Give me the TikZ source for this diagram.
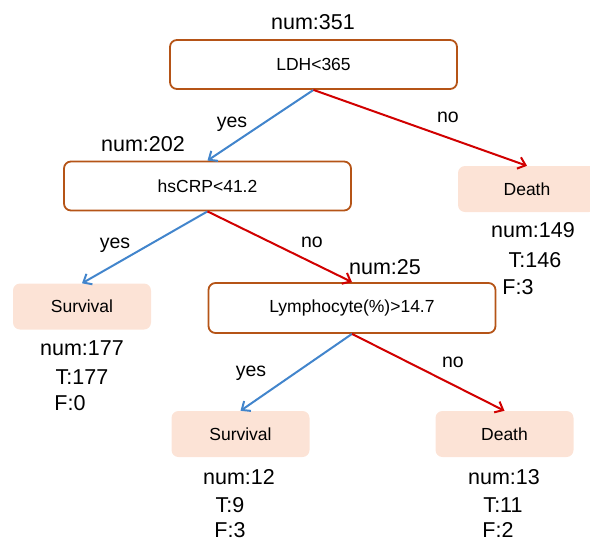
\documentclass[tikz,border=0pt]{standalone}
\usepackage{fontspec}
\setmainfont{Liberation Sans}
\usetikzlibrary{arrows.meta}

\begin{document}
\begin{tikzpicture}[x=1pt,y=-1pt,
  splitbox/.style={draw=col_border,line width=1.8pt,rounded corners=7pt,
    minimum width=287pt,minimum height=49pt,font=\fontsize{17.5}{20}\selectfont},
  leafbox/.style={fill=col_leaf,rounded corners=7pt,
    minimum width=138pt,minimum height=46pt,font=\fontsize{17.5}{20}\selectfont},
  count/.style={inner sep=0pt,font=\fontsize{21.5}{24}\selectfont},
  edgelab/.style={inner sep=0pt,anchor=base,font=\fontsize{19.5}{22}\selectfont},
  yesedge/.style={draw=col_yes,line width=2pt,-{Straight Barb[length=7pt,width=12pt]}},
  noedge/.style={draw=col_no,line width=2pt,-{Straight Barb[length=7pt,width=12pt]}}]
%
\definecolor{col_border}{rgb}{0.71,0.33,0.09}
\definecolor{col_leaf}{rgb}{0.99,0.89,0.84}
\definecolor{col_yes}{rgb}{0.26,0.52,0.80}
\definecolor{col_no}{rgb}{0.82,0.0,0.0}
%
\useasboundingbox (0,0) rectangle (590,539);
%
% split nodes
\node[splitbox] (ldh) at (313.5,64.5) {LDH<365};
\node[splitbox] (crp) at (207.5,186) {hsCRP<41.2};
\node[splitbox,minimum height=50pt] (lym) at (352,308) {Lymphocyte(\%)>14.7};
%
% leaves
\node[leafbox] (death_a) at (527,189) {Death};
\node[leafbox] (surv_a) at (82,306.5) {Survival};
\node[leafbox] (surv_b) at (240.5,434) {Survival};
\node[leafbox] (death_b) at (504.5,434) {Death};
%
% counts
\node[count] (n_ldh) at (313,22) {num:351};
\node[count] (n_crp) at (143,144) {num:202};
\node[count] (n_lym) at (385,267) {num:25};
%
\node[count] (n_da) at (533,230) {num:149};
\node[count] (t_da) at (535,260) {T:146};
\node[count] (f_da) at (518,287) {F:3};
%
\node[count] (n_sa) at (82,348) {num:177};
\node[count] (t_sa) at (82,377) {T:177};
\node[count] (f_sa) at (70,403) {F:0};
%
\node[count] (n_sb) at (239,477) {num:12};
\node[count] (t_sb) at (230,505) {T:9};
\node[count] (f_sb) at (230,530) {F:3};
%
\node[count] (n_db) at (504,477) {num:13};
\node[count] (t_db) at (503,505) {T:11};
\node[count] (f_db) at (498,530) {F:2};
%
% edges
\draw[yesedge] (ldh.south) -- (crp.north);
\draw[noedge] (ldh.south) -- (death_a.north);
\draw[yesedge] (crp.south) -- (surv_a.north);
\draw[noedge] (crp.south) -- (lym.north);
\draw[yesedge] (lym.south) -- (surv_b.north);
\draw[noedge] (lym.south) -- (death_b.north);
%
% edge labels
\node[edgelab] (y_ldh) at (232,127) {yes};
\node[edgelab] (o_ldh) at (448,122) {no};
\node[edgelab] (y_crp) at (115,248) {yes};
\node[edgelab] (o_crp) at (312,247) {no};
\node[edgelab] (y_lym) at (251,376) {yes};
\node[edgelab] (o_lym) at (453,367) {no};
%
\end{tikzpicture}
\end{document}
